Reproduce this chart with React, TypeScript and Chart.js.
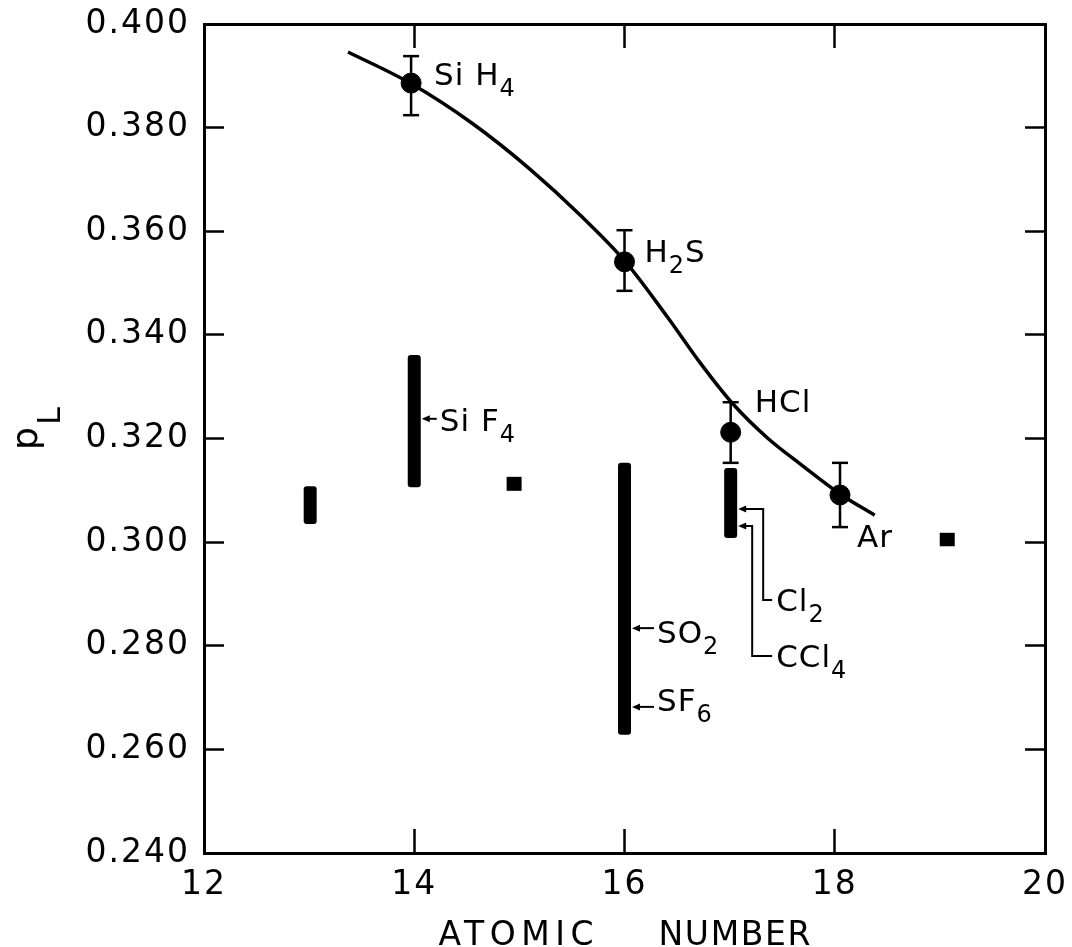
import React, { useEffect, useRef } from 'react';
import { Chart, registerables } from 'chart.js';

Chart.register(...registerables);

// ---------- data ----------
// fitted curve through the measured points
const curveX = [13.37, 13.96, 14.56, 15.1, 15.58, 16.01, 16.41, 16.72, 17.03, 17.36, 17.67, 18.05, 18.38];
const curveY = [0.3946, 0.3886, 0.3807, 0.372, 0.3631, 0.3541, 0.3434, 0.3346, 0.3267, 0.3201, 0.3151, 0.3093, 0.3052];

// measured gases with error bars
const gasNames = ['Si H4', 'H2S', 'HCl', 'Ar'];
const gasX = [13.97, 16.0, 17.01, 18.05];
const gasY = [0.3886, 0.3541, 0.3212, 0.3091];
const gasErrHigh = [0.3938, 0.3602, 0.327, 0.3153];
const gasErrLow = [0.3824, 0.3485, 0.3153, 0.3029];

// ranges (thick vertical bars)
const rangeX = [13.01, 14.0, 16.0, 17.01];
const rangeLow = [0.3035, 0.3106, 0.2628, 0.3008];
const rangeHigh = [0.3108, 0.3361, 0.3153, 0.3143];

// single values (small squares)
const dotX = [14.95, 19.07];
const dotLow = [0.3099, 0.2992];
const dotHigh = [0.3126, 0.3018];

// labels pointing at the bars
const barLabelNames = ['Si F4', 'SO2', 'SF6', 'Cl2', 'CCl4'];
const barLabelX = [14.0, 16.0, 16.0, 17.01, 17.01];
const barLabelY = [0.3238, 0.2834, 0.2682, 0.3064, 0.3031];

// axes
const xMin = 12;
const xMax = 20;
const xStep = 2;
const yMin = 0.24;
const yMax = 0.4;
const yStep = 0.02;
const xTitleWords = ['ATOMIC', 'NUMBER'];
const yTitleMain = 'p';
const yTitleSub = 'L';

const FONT = '"DejaVu Sans", sans-serif';

function drawChem(ctx: CanvasRenderingContext2D, s: string, x: number, y: number) {
  let cx = x;
  for (const ch of s) {
    const sub = /[0-9]/.test(ch);
    ctx.font = `${sub ? 24 : 31}px ${FONT}`;
    ctx.fillText(ch, cx, sub ? y + 11 : y);
    cx += ctx.measureText(ch).width;
  }
}

function drawFitted(ctx: CanvasRenderingContext2D, s: string, x: number, width: number, y: number) {
  (ctx as any).letterSpacing = '0px';
  const w = ctx.measureText(s).width;
  const ls = (width - w) / Math.max(1, s.length - 1);
  (ctx as any).letterSpacing = `${ls}px`;
  ctx.textAlign = 'left';
  ctx.fillText(s, x, y);
}

function line(ctx: CanvasRenderingContext2D, pts: number[][]) {
  ctx.beginPath();
  ctx.moveTo(pts[0][0], pts[0][1]);
  for (let i = 1; i < pts.length; i++) ctx.lineTo(pts[i][0], pts[i][1]);
  ctx.stroke();
}

function arrowHead(ctx: CanvasRenderingContext2D, x: number, y: number) {
  ctx.beginPath();
  ctx.moveTo(x, y);
  ctx.lineTo(x + 8, y - 3.5);
  ctx.lineTo(x + 8, y + 3.5);
  ctx.closePath();
  ctx.fill();
}

const annotatePlugin = {
  id: 'annotate',
  beforeDraw(chart: any) {
    (chart.ctx as any).letterSpacing = '2px';
  },
  afterDatasetsDraw(chart: any) {
    const ctx: CanvasRenderingContext2D = chart.ctx;
    const xs = chart.scales.x;
    const ys = chart.scales.y;
    ctx.save();
    ctx.strokeStyle = '#000';
    ctx.lineWidth = 2.5;
    gasX.forEach((x, i) => {
      const X = xs.getPixelForValue(x);
      const y1 = ys.getPixelForValue(gasErrHigh[i]);
      const y2 = ys.getPixelForValue(gasErrLow[i]);
      line(ctx, [[X, y1], [X, y2]]);
      line(ctx, [[X - 8, y1], [X + 8, y1]]);
      line(ctx, [[X - 8, y2], [X + 8, y2]]);
    });
    ctx.restore();
  },
  afterDraw(chart: any) {
    const ctx: CanvasRenderingContext2D = chart.ctx;
    const xs = chart.scales.x;
    const ys = chart.scales.y;
    const area = chart.chartArea;
    ctx.save();
    ctx.fillStyle = '#000';
    ctx.strokeStyle = '#000';
    ctx.textBaseline = 'alphabetic';
    ctx.textAlign = 'left';
    (ctx as any).letterSpacing = '1px';

    // gas labels
    const gasOffsets = [[23, 2], [20, 0], [24, -20], [17, 52]];
    gasNames.forEach((n, i) => {
      const X = xs.getPixelForValue(gasX[i]);
      const Y = ys.getPixelForValue(gasY[i]);
      drawChem(ctx, n, X + gasOffsets[i][0], Y + gasOffsets[i][1]);
    });

    // bar labels with arrows
    ctx.lineWidth = 2;
    const half = 6.5;
    const baseOff = [12, 15, 4];
    barLabelNames.forEach((n, i) => {
      const bx = xs.getPixelForValue(barLabelX[i]) + half;
      const Y = ys.getPixelForValue(barLabelY[i]);
      arrowHead(ctx, bx + 1, Y);
      if (i < 3) {
        const gap = i === 0 ? 16 : 23;
        line(ctx, [[bx + 6, Y], [bx + gap, Y]]);
        drawChem(ctx, n, bx + gap + 3, Y + baseOff[i]);
      } else {
        const elbow = i === 3 ? 26 : 15;
        const drop = i === 3 ? 91 : 130;
        line(ctx, [[bx + 6, Y], [bx + elbow, Y], [bx + elbow, Y + drop], [bx + 35, Y + drop]]);
        drawChem(ctx, n, bx + 39, Y + drop + 11);
      }
    });

    // x axis title
    ctx.font = `33px ${FONT}`;
    const cx = (area.left + area.right) / 2;
    drawFitted(ctx, xTitleWords[0], cx - 186, 155, 945);
    drawFitted(ctx, xTitleWords[1], cx + 34, 152, 945);

    // y axis title p_L (rotated)
    (ctx as any).letterSpacing = '0px';
    ctx.translate(37, 450);
    ctx.rotate(-Math.PI / 2);
    ctx.font = `36px ${FONT}`;
    ctx.fillText(yTitleMain, 0, 0);
    ctx.font = `32px ${FONT}`;
    ctx.fillText(yTitleSub, 25, 23);
    ctx.restore();
  },
};

export default function App() {
  const ref = useRef<HTMLCanvasElement>(null);
  useEffect(() => {
    const canvas = ref.current;
    if (!canvas) return;
    const gridOpts = (len: number) => ({
      drawOnChartArea: false,
      drawTicks: true,
      tickLength: -len,
      tickWidth: 2.5,
      tickColor: '#000',
      color: '#000',
      offset: false,
    });
    const borderOpts = { display: true, color: '#000', width: 3 };
    const fixX = (h: number) => (s: any) => {
      s.height = h;
      s.paddingLeft = 0;
      s.paddingRight = 0;
    };
    const fixY = (w: number) => (s: any) => {
      s.width = w;
      s.paddingTop = 0;
      s.paddingBottom = 0;
    };
    const chart = new Chart(canvas, {
      type: 'scatter',
      data: {
        datasets: [
          {
            type: 'line',
            data: curveX.map((x, i) => ({ x, y: curveY[i] })),
            borderColor: '#000',
            borderWidth: 3.5,
            pointRadius: 0,
            cubicInterpolationMode: 'monotone',
            fill: false,
            xAxisID: 'x',
            yAxisID: 'y',
          } as any,
          {
            type: 'bar',
            data: rangeX.map((x, i) => ({ x, y: [rangeLow[i], rangeHigh[i]] })),
            backgroundColor: '#000',
            borderWidth: 0,
            borderSkipped: false,
            borderRadius: 3,
            grouped: false,
            maxBarThickness: 13,
            xAxisID: 'x',
            yAxisID: 'y',
          } as any,
          {
            type: 'bar',
            data: dotX.map((x, i) => ({ x, y: [dotLow[i], dotHigh[i]] })),
            backgroundColor: '#000',
            borderWidth: 0,
            borderSkipped: false,
            grouped: false,
            maxBarThickness: 15,
            xAxisID: 'x',
            yAxisID: 'y',
          } as any,
          {
            type: 'scatter',
            data: gasX.map((x, i) => ({ x, y: gasY[i] })),
            backgroundColor: '#000',
            borderColor: '#000',
            pointRadius: 10,
            pointHoverRadius: 10,
            xAxisID: 'x',
            yAxisID: 'y',
          } as any,
        ],
      },
      options: {
        responsive: false,
        animation: false,
        devicePixelRatio: 1,
        events: [],
        layout: { padding: 0 },
        plugins: { legend: { display: false }, tooltip: { enabled: false } },
        scales: {
          x: {
            type: 'linear',
            position: 'bottom',
            offset: false,
            min: xMin,
            max: xMax,
            ticks: {
              stepSize: xStep,
              color: '#000',
              font: { family: FONT, size: 33 },
              padding: 37,
              maxRotation: 0,
              callback: (v: any) => String(v),
            },
            grid: gridOpts(24),
            border: borderOpts,
            afterFit: fixX(94),
          },
          x2: {
            type: 'linear',
            axis: 'x',
            position: 'top',
            offset: false,
            min: xMin,
            max: xMax,
            ticks: { display: false, stepSize: xStep },
            grid: gridOpts(24),
            border: borderOpts,
            afterFit: fixX(24),
          },
          y: {
            type: 'linear',
            position: 'left',
            min: yMin,
            max: yMax,
            ticks: {
              stepSize: yStep,
              color: '#000',
              font: { family: FONT, size: 33 },
              padding: 34,
              callback: (v: any) => Number(v).toFixed(3),
            },
            grid: gridOpts(20),
            border: borderOpts,
            afterFit: fixY(204),
          },
          y2: {
            type: 'linear',
            axis: 'y',
            position: 'right',
            min: yMin,
            max: yMax,
            ticks: { display: false, stepSize: yStep },
            grid: gridOpts(20),
            border: borderOpts,
            afterFit: fixY(27),
          },
        },
      } as any,
      plugins: [annotatePlugin],
    });
    return () => chart.destroy();
  }, []);
  return (
    <canvas
      ref={ref}
      width={1072}
      height={947}
      style={{ position: 'fixed', left: 0, top: 0, display: 'block', background: '#fff' }}
    />
  );
}
